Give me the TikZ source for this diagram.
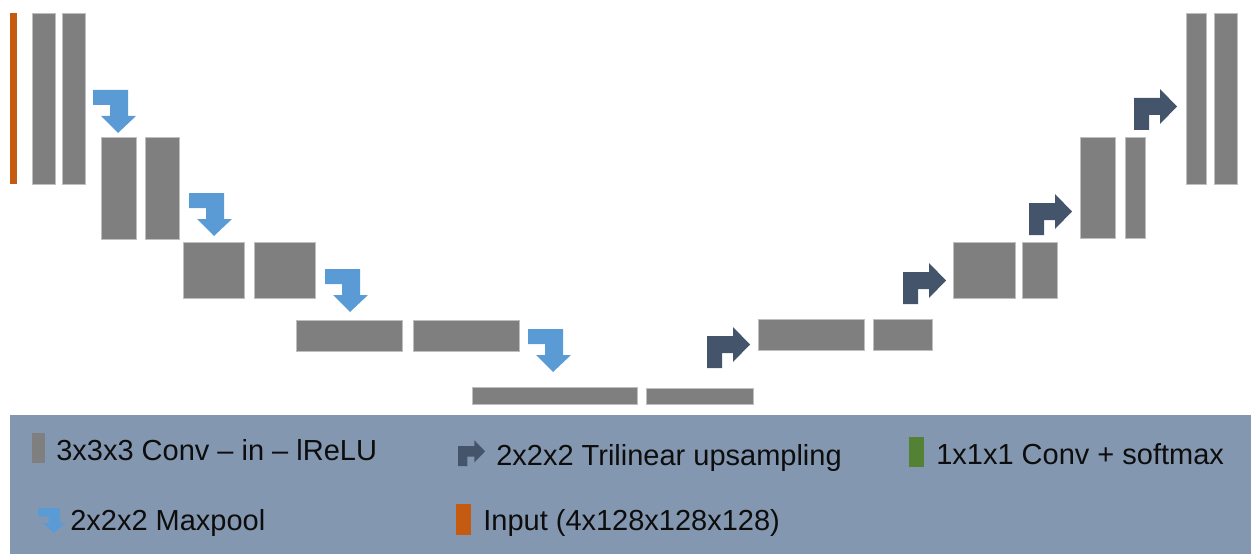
\documentclass[tikz,border=0pt]{standalone}
\usepackage{fontspec}
\setmainfont{Liberation Sans}
\usepackage{xcolor}
\usepackage{tikz}
\usetikzlibrary{positioning}
\definecolor{convgray}{HTML}{7F7F7F}
\definecolor{convedge}{HTML}{BFBFBF}
\definecolor{poolblue}{HTML}{5B9BD5}
\definecolor{upslate}{HTML}{44546A}
\definecolor{inorange}{HTML}{C55A11}
\definecolor{outgreen}{HTML}{548235}
\definecolor{legendbg}{HTML}{8497B0}
\tikzset{blk/.style 2 args={rectangle,anchor=north west,inner sep=0,outer sep=0,minimum width=#1*0.02cm,minimum height=#2*0.02cm}}
\tikzset{conv/.style={blk={#1},fill=convgray,draw=convedge,line width=0.5pt}}
\tikzset{lbl/.style={anchor=base west,inner sep=0,text=black!95,font=\fontsize{16.5}{19}\selectfont}}
\newcommand{\pooldown}[2]{\begin{scope}[shift={(#1)},#2]
  \fill[poolblue] (0,0) -- (35,0) -- (35,26) -- (43,26) -- (25,43) -- (8,26) -- (17,26) -- (17,15) -- (0,15) -- cycle;
\end{scope}}
\newcommand{\upsample}[2]{\begin{scope}[shift={(#1)},#2]
  \fill[upslate] (0,32) -- (0,0) -- (26,0) -- (26,-9) -- (43,8.5) -- (26,26) -- (26,17) -- (15,17) -- (15,32) -- cycle;
\end{scope}}

\begin{document}
\begin{tikzpicture}[x=0.02cm,y=-0.02cm]
        \useasboundingbox (0,0) rectangle (1251,554);

        % encoder
        \node[blk={7}{171},fill=inorange] (inp) at (10,13) {};
        \node[conv={{23}{171}}] (e1a) at (32,13) {};
        \node[conv={{23}{171}}] (e1b) at (62,13) {};
        \node[conv={{35}{102}}] (e2a) at (101,137) {};
        \node[conv={{34}{102}}] (e2b) at (145,137) {};
        \node[conv={{61}{56}}] (e3a) at (183,242) {};
        \node[conv={{61}{56}}] (e3b) at (254,242) {};
        \node[conv={{106}{31}}] (e4a) at (296,320) {};
        \node[conv={{106}{31}}] (e4b) at (413,320) {};
        \node[conv={{165}{17}}] (b5a) at (472,387) {};
        \node[conv={{107}{16}}] (b5b) at (646,388) {};

        % decoder
        \node[conv={{106}{31}}] (d4a) at (758,319) {};
        \node[conv={{59}{31}}] (d4b) at (873,319) {};
        \node[conv={{62}{56}}] (d3a) at (953,242) {};
        \node[conv={{35}{56}}] (d3b) at (1022,242) {};
        \node[conv={{35}{101}}] (d2a) at (1080,137) {};
        \node[conv={{20}{101}}] (d2b) at (1125,137) {};
        \node[conv={{20}{171}}] (d1a) at (1186,13) {};
        \node[conv={{23}{171}}] (d1b) at (1214,13) {};

        \pooldown{93,90}{}
        \pooldown{189,193}{}
        \pooldown{325,269}{}
        \pooldown{528,329}{}
        \upsample{707,336}{}
        \upsample{903,272}{}
        \upsample{1029,203}{}
        \upsample{1134,98}{}

        % legend
        \fill[legendbg] (10,415) rectangle (1251,554);
        \node[blk={13}{30},fill=convgray] (kconv) at (32,433) {};
        \node[lbl] (tconv) at (56,460) {3x3x3 Conv – in – lReLU};
        \pooldown{38,508}{xscale=0.63,yscale=0.58}
        \node[lbl] (tpool) at (70,530) {2x2x2 Maxpool};
        \upsample{458,446}{scale=0.63}
        \node[lbl] (tup) at (496,465) {2x2x2 Trilinear upsampling};
        \node[blk={15}{31},fill=inorange] (kin) at (456,504) {};
        \node[lbl] (tin) at (483,530) {Input (4x128x128x128)};
        \node[blk={15}{30},fill=outgreen] (kout) at (909,437) {};
        \node[lbl] (tout) at (936,464) {1x1x1 Conv + softmax};
    \end{tikzpicture}
\end{document}
